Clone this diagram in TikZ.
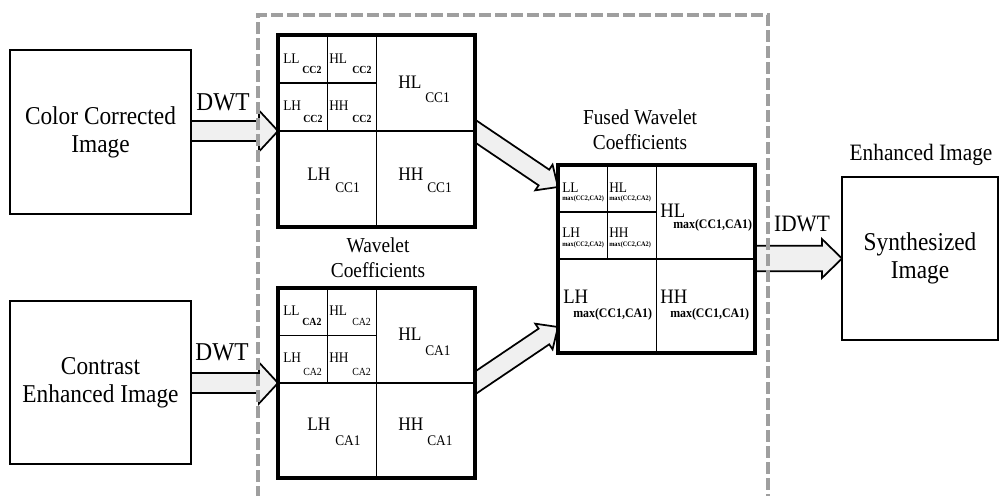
\documentclass[tikz,border=0pt]{standalone}
\usepackage{graphicx}
\usepackage{fontspec}
\setmainfont{Liberation Serif}
\usetikzlibrary{calc}
\pgfdeclarelayer{bg}
\pgfsetlayers{bg,main}
\newcommand\vs[1]{\scalebox{1}[1.1]{#1}}
\newcommand\coefpair[7]{\node[#2] (#1) at (#3) {\vs{#4}}; \node[#5] (#1s) at (#6) {\vs{#7}};}
\newcommand\blockarrow[5]{%
  \coordinate (ba-c) at ($(#2)!#5!(#1)$);
  \draw[barrow] ($(#1)!#3!90:(#2)$) -- ($(ba-c)!#3!90:(#2)$) -- ($(ba-c)!#4!90:(#2)$) -- (#2)
    -- ($(ba-c)!#4!-90:(#2)$) -- ($(ba-c)!#3!-90:(#2)$) -- ($(#1)!#3!-90:(#2)$) -- cycle;}
\begin{document}
\begin{tikzpicture}[x=0.75pt,y=-0.75pt,
  imgbox/.style={draw, line width=2pt, fill=white, align=center, inner sep=0, outer sep=0,
    font=\fontsize{17.5}{21}\selectfont},
  wbox/.style={draw, line width=3.2pt, fill=white, inner sep=0, outer sep=0},
  inner/.style={draw, line width=1pt},
  barrow/.style={draw, line width=1.3pt, fill=gray!12, line join=miter},
  dashbox/.style={draw=gray!75, line width=3pt, dash pattern=on 9pt off 3pt},
  lbl/.style={inner sep=0, font=\fontsize{17.5}{21}\selectfont},
  lbl2/.style={inner sep=0, align=center, font=\fontsize{14.5}{18.75}\selectfont},
  sm/.style={anchor=base west, inner sep=0, font=\fontsize{10}{10}\selectfont},
  smsub/.style={anchor=base west, inner sep=0, font=\fontsize{7.4}{7.4}\selectfont},
  smsubb/.style={anchor=base west, inner sep=0, font=\fontsize{7.4}{7.4}\selectfont\bfseries},
  big/.style={anchor=base west, inner sep=0, font=\fontsize{13}{13}\selectfont},
  bigsub/.style={anchor=base west, inner sep=0, font=\fontsize{10}{10}\selectfont},
  fbig/.style={anchor=base west, inner sep=0, font=\fontsize{14}{14}\selectfont},
  fsub/.style={anchor=base west, inner sep=0, font=\fontsize{8.9}{8.9}\selectfont\bfseries},
  fsm/.style={anchor=base west, inner sep=0, font=\fontsize{10}{10}\selectfont},
  fssub/.style={anchor=base west, inner sep=0, font=\fontsize{4.7}{4.7}\selectfont\bfseries}
]
\path[use as bounding box] (0,0) rectangle (1000,496);
\clip (0,0) rectangle (1000,496);

% image boxes
\node[imgbox, minimum width=135.75pt, minimum height=123pt] (cc) at (100.5,132) {\vs{Color Corrected}\\\vs{Image}};
\node[imgbox, minimum width=135.75pt, minimum height=122.25pt] (ce) at (100.5,382.5) {\vs{Contrast}\\\vs{Enhanced Image}};
\node[imgbox, minimum width=117pt, minimum height=122.25pt] (syn) at (920,258.5) {\vs{Synthesized}\\\vs{Image}};

% wavelet boxes
\node[wbox, minimum width=147.75pt, minimum height=144pt] (w1) at (376.5,131) {};
\node[wbox, minimum width=147.75pt, minimum height=142.5pt] (w2) at (376.5,383) {};
\node[wbox, minimum width=147.75pt, minimum height=141pt] (fu) at (656.5,259) {};

\foreach \b in {w1,w2,fu}{
  \draw[inner] (\b.north) -- (\b.south);
  \draw[inner] (\b.west) -- (\b.east);
  \draw[inner] ($(\b.north west)!.5!(\b.north)$) -- ($(\b.west)!.5!(\b.center)$);
  \draw[inner] ($(\b.north west)!.5!(\b.west)$) -- ($(\b.north)!.5!(\b.center)$);
}

% arrows (behind boxes)
\coordinate (t1) at ($(fu.north west)+(0,22)$);
\coordinate (t2) at ($(fu.south west)+(0,-26)$);
\coordinate (s1) at ($(w1.east)!-10pt!(t1)$);
\coordinate (s2) at ($(w2.east)!-10pt!(t2)$);
\coordinate (a1) at (cc.east|-w1.west);
\coordinate (a2) at (ce.east|-w2.west);
\coordinate (a3) at (fu.east|-syn.west);
\begin{pgfonlayer}{bg}
  \blockarrow{a1}{w1.west}{7.5pt}{15.4pt}{14.25pt}
  \blockarrow{a2}{w2.west}{7.5pt}{15.4pt}{14.25pt}
  \blockarrow{s1}{t1}{7.1pt}{11.6pt}{12.75pt}
  \blockarrow{s2}{t2}{7.1pt}{11.6pt}{12.75pt}
  \blockarrow{a3}{syn.west}{9.5pt}{14.6pt}{15pt}
\end{pgfonlayer}

% labels
\node[lbl] (dwt1) at (223,102) {\vs{DWT}};
\node[lbl] (dwt2) at (222,352) {\vs{DWT}};
\node[lbl, font=\fontsize{16}{19}\selectfont] (idwt) at (802,224) {\vs{IDWT}};
\node[lbl2] (wc) at (378,258) {\vs{Wavelet}\\\vs{Coefficients}};
\node[lbl2] (fwc) at (640,130) {\vs{Fused Wavelet}\\\vs{Coefficients}};
\node[lbl, font=\fontsize{16}{19}\selectfont] (enh) at (921,155) {\vs{Enhanced Image}};

% top wavelet coefficients
\coefpair{a11}{sm}{283,63}{LL}{smsubb}{302,73}{CC2}
\coefpair{a12}{sm}{329,63}{HL}{smsubb}{352,73}{CC2}
\coefpair{a13}{sm}{283,110}{LH}{smsubb}{303,122}{CC2}
\coefpair{a14}{sm}{329,110}{HH}{smsubb}{352,122}{CC2}
\coefpair{a15}{big}{398,88}{HL}{bigsub}{425,102}{CC1}
\coefpair{a16}{big}{307,180}{LH}{bigsub}{335,192}{CC1}
\coefpair{a17}{big}{398,180}{HH}{bigsub}{427,192}{CC1}

% bottom wavelet coefficients
\coefpair{b11}{sm}{283,315}{LL}{smsubb}{302,325}{CA2}
\coefpair{b12}{sm}{329,315}{HL}{smsub}{352,325}{CA2}
\coefpair{b13}{sm}{283,362}{LH}{smsub}{303,375}{CA2}
\coefpair{b14}{sm}{329,362}{HH}{smsub}{352,375}{CA2}
\coefpair{b15}{big}{398,340}{HL}{bigsub}{425,355}{CA1}
\coefpair{b16}{big}{307,430}{LH}{bigsub}{335,445}{CA1}
\coefpair{b17}{big}{398,430}{HH}{bigsub}{427,445}{CA1}

% fused coefficients
\coefpair{c11}{fsm}{562,192}{LL}{fssub}{562,200}{max(CC2,CA2)}
\coefpair{c12}{fsm}{609,192}{HL}{fssub}{609,200}{max(CC2,CA2)}
\coefpair{c13}{fsm}{562,237}{LH}{fssub}{562,246}{max(CC2,CA2)}
\coefpair{c14}{fsm}{609,237}{HH}{fssub}{609,246}{max(CC2,CA2)}
\coefpair{c15}{fbig}{660,217}{HL}{fsub}{673,228}{max(CC1,CA1)}
\coefpair{c16}{fbig}{563,303}{LH}{fsub}{573,317}{max(CC1,CA1)}
\coefpair{c17}{fbig}{660,303}{HH}{fsub}{670,317}{max(CC1,CA1)}

% dashed region
\draw[dashbox] (258,530) -- (258,15) -- (768,15) -- (768,530);
\end{tikzpicture}
\end{document}
